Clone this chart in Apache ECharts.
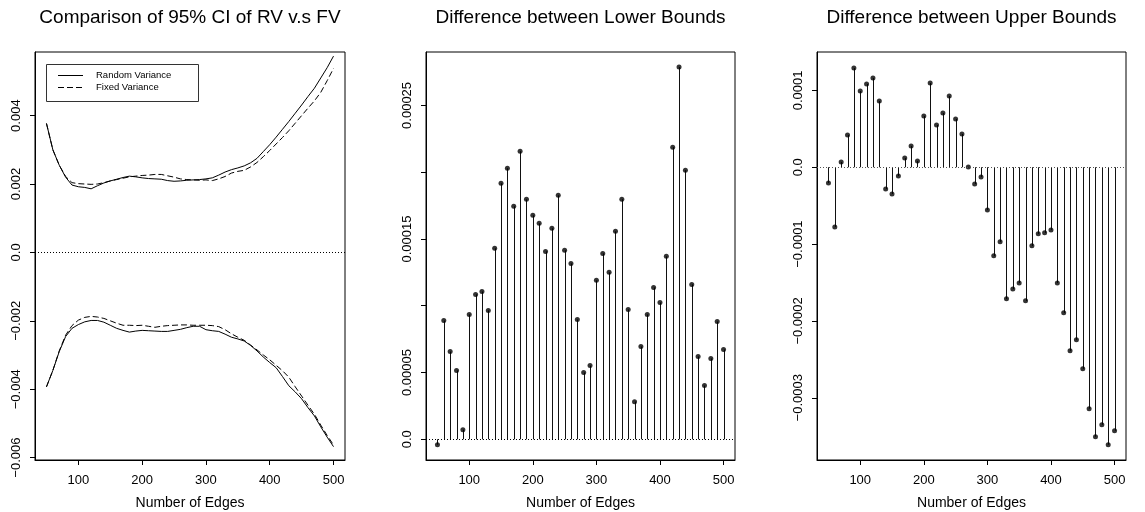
<!DOCTYPE html>
<html>
<head>
<meta charset="utf-8">
<script src="https://cdn.jsdelivr.net/npm/echarts@6/dist/echarts.min.js"></script>
<style>
  html, body { margin: 0; padding: 0; background: #fff; }
  #chart { width: 1145px; height: 512px; }
</style>
</head>
<body>
<div id="chart"></div>
<script>
// number of edges (x values shared by all panels)
const edges = [50, 60, 70, 80, 90, 100, 110, 120, 130, 140, 150, 160, 170, 180, 190, 200,
  210, 220, 230, 240, 250, 260, 270, 280, 290, 300, 310, 320, 330, 340, 350, 360,
  370, 380, 390, 400, 410, 420, 430, 440, 450, 460, 470, 480, 490, 500];

// panel 1: 95% CI bounds
const rvUpper = [0.00377, 0.00300, 0.00255, 0.00220, 0.00197, 0.00192, 0.00190, 0.00186, 0.00195, 0.00203,
  0.00209, 0.00214, 0.00219, 0.00223, 0.00221, 0.00218, 0.00216, 0.00215, 0.00214, 0.00210,
  0.00208, 0.00209, 0.00211, 0.00212, 0.00213, 0.00215, 0.00218, 0.00226, 0.00235, 0.00242,
  0.00247, 0.00253, 0.00262, 0.00275, 0.00295, 0.00315, 0.00337, 0.00360, 0.00383, 0.00407,
  0.00431, 0.00456, 0.00480, 0.00510, 0.00540, 0.00574];
const fvUpper = [0.00377, 0.00300, 0.00255, 0.00222, 0.00204, 0.00201, 0.00200, 0.00199, 0.00200, 0.00204,
  0.00209, 0.00213, 0.00217, 0.00221, 0.00223, 0.00225, 0.00226, 0.00228, 0.00228, 0.00224,
  0.00220, 0.00215, 0.00213, 0.00212, 0.00211, 0.00212, 0.00210, 0.00215, 0.00222, 0.00232,
  0.00237, 0.00240, 0.00250, 0.00263, 0.00280, 0.00298, 0.00317, 0.00336, 0.00356, 0.00378,
  0.00400, 0.00422, 0.00443, 0.00468, 0.00502, 0.00538];
const rvLower = [-0.00393, -0.00345, -0.00290, -0.00246, -0.00222, -0.00211, -0.00203, -0.00199, -0.00199, -0.00204,
  -0.00213, -0.00222, -0.00228, -0.00233, -0.00230, -0.00228, -0.00229, -0.00230, -0.00231, -0.00231,
  -0.00228, -0.00225, -0.00220, -0.00216, -0.00216, -0.00226, -0.00229, -0.00231, -0.00239, -0.00248,
  -0.00253, -0.00259, -0.00272, -0.00288, -0.00306, -0.00322, -0.00337, -0.00363, -0.00390, -0.00408,
  -0.00428, -0.00454, -0.00478, -0.00510, -0.00540, -0.00568];
const fvLower = [-0.00393, -0.00345, -0.00288, -0.00242, -0.00214, -0.00198, -0.00190, -0.00187, -0.00189, -0.00193,
  -0.00200, -0.00207, -0.00213, -0.00213, -0.00214, -0.00213, -0.00216, -0.00219, -0.00216, -0.00214,
  -0.00213, -0.00212, -0.00212, -0.00213, -0.00213, -0.00213, -0.00214, -0.00217, -0.00226, -0.00238,
  -0.00248, -0.00257, -0.00271, -0.00285, -0.00300, -0.00314, -0.00330, -0.00346, -0.00365, -0.00393,
  -0.00420, -0.00447, -0.00473, -0.00505, -0.00535, -0.00563];

// panel 2 / 3: differences
const lowerDiff = [-0.000004, 0.0000889, 0.0000657, 0.0000515, 0.0000072, 0.0000935, 0.0001085, 0.0001107, 0.0000965, 0.000143,
  0.0001917, 0.000203, 0.0001745, 0.0002157, 0.0001797, 0.0001677, 0.0001617, 0.0001407, 0.000158, 0.0001827,
  0.0001415, 0.0001317, 0.0000897, 0.00005, 0.0000552, 0.000119, 0.0001392, 0.000125, 0.0001557, 0.0001797,
  0.0000972, 0.0000282, 0.0000695, 0.0000935, 0.0001137, 0.0001025, 0.000137, 0.0002187, 0.0002787, 0.0002015,
  0.000116, 0.000062, 0.0000402, 0.0000605, 0.0000882, 0.0000672];
const upperDiff = [-0.0000204, -0.0000776, 0.0000069, 0.000042, 0.0001291, 0.0000992, 0.0001083, 0.0001161, 0.0000862, -0.0000282,
  -0.0000347, -0.0000113, 0.0000121, 0.0000277, 0.0000082, 0.0000667, 0.0001096, 0.000055, 0.0000706, 0.0000927,
  0.0000628, 0.0000433, 0.0000004, -0.0000217, -0.0000126, -0.0000555, -0.0001153, -0.0000971, -0.0001713, -0.0001583,
  -0.0001505, -0.0001739, -0.0001023, -0.0000867, -0.0000854, -0.0000815, -0.0001505, -0.0001895, -0.0002389, -0.0002246,
  -0.0002623, -0.0003143, -0.0003507, -0.0003351, -0.0003611, -0.0003429];

// ticks & labels
const xTicks = [100, 200, 300, 400, 500];
const ciTicks = [-0.006, -0.004, -0.002, 0, 0.002, 0.004];
const ciLabels = ['\u22120.006', '\u22120.004', '\u22120.002', '0.0', '0.002', '0.004'];
const lowTicks = [0, 0.00005, 0.0001, 0.00015, 0.0002, 0.00025];
const lowLabelTicks = [0, 0.00005, 0.00015, 0.00025];
const lowLabels = ['0.0', '0.00005', '0.00015', '0.00025'];
const upTicks = [-0.0003, -0.0002, -0.0001, 0, 0.0001];
const upLabels = ['\u22120.0003', '\u22120.0002', '\u22120.0001', '0.0', '0.0001'];

const titles = ['Comparison of 95% CI of RV v.s FV', 'Difference between Lower Bounds', 'Difference between Upper Bounds'];
const legendNames = ['Random Variance', 'Fixed Variance'];

const FONT = '"Liberation Sans", Arial, Helvetica, sans-serif';
const grids = [
  { left: 35, top: 52, width: 310, height: 408 },
  { left: 426, top: 52, width: 309, height: 408 },
  { left: 817, top: 52, width: 309, height: 408 }
];

function pairs(ys) {
  return edges.map((x, i) => [x, ys[i]]);
}
function lookup(vals, labels) {
  return function (v) {
    for (let i = 0; i < vals.length; i++) {
      if (Math.abs(vals[i] - v) < 1e-12) return labels[i];
    }
    return '';
  };
}

function xAxisOf(idx) {
  return {
    type: 'value', gridIndex: idx, min: 32, max: 518,
    name: 'Number of Edges', nameLocation: 'middle', nameGap: 36,
    nameTextStyle: { color: '#000', fontSize: 14, fontFamily: FONT },
    axisLine: { show: true, onZero: false, lineStyle: { color: '#000', width: 1 } },
    axisTick: { show: true, inside: false, length: 5, lineStyle: { color: '#000' }, customValues: xTicks },
    axisLabel: { color: '#000', fontSize: 13, fontFamily: FONT, margin: 14, customValues: xTicks },
    splitLine: { show: false }
  };
}
function yAxisOf(idx, min, max, ticks, labelTicks, labels) {
  return {
    type: 'value', gridIndex: idx, min: min, max: max,
    axisLine: { show: true, onZero: false, lineStyle: { color: '#000', width: 1 } },
    axisTick: { show: true, inside: false, length: 5, lineStyle: { color: '#000' }, customValues: ticks },
    axisLabel: {
      color: '#000', fontSize: 13, fontFamily: FONT, rotate: 90, margin: 12,
      customValues: labelTicks, formatter: lookup(labelTicks, labels)
    },
    splitLine: { show: false }
  };
}

function stem(params, api) {
  const p0 = api.coord([api.value(0), 0]);
  const p1 = api.coord([api.value(0), api.value(1)]);
  const x = Math.round(p0[0]) + 0.5;
  return {
    type: 'line',
    shape: { x1: x, y1: p0[1], x2: x, y2: p1[1] },
    style: { stroke: '#111', lineWidth: 1 }
  };
}

const zeroLine = (color) => ({
  silent: true, symbol: 'none', label: { show: false },
  lineStyle: { color: color, type: [1, 2], width: 1 },
  data: [{ yAxis: 0 }]
});

// legend box drawn like R's legend()
const legendBox = [
  { type: 'rect', left: 46, top: 64, shape: { width: 152, height: 37 },
    style: { fill: '#fff', stroke: '#333', lineWidth: 1 }, z: 100 },
  { type: 'line', shape: { x1: 58, y1: 75.5, x2: 83, y2: 75.5 },
    style: { stroke: '#000', lineWidth: 1 }, z: 101 },
  { type: 'line', shape: { x1: 58, y1: 87.5, x2: 83, y2: 87.5 },
    style: { stroke: '#000', lineWidth: 1, lineDash: [6, 3] }, z: 101 },
  { type: 'text', left: 96, top: 70, z: 101,
    style: { text: legendNames[0], fill: '#000', fontSize: 9.5, fontFamily: FONT } },
  { type: 'text', left: 96, top: 82, z: 101,
    style: { text: legendNames[1], fill: '#000', fontSize: 9.5, fontFamily: FONT } }
];

const chart = echarts.init(document.getElementById('chart'), null, { renderer: 'canvas' });
const option = {
  animation: false,
  backgroundColor: '#fff',
  title: titles.map((t, i) => ({
    text: t,
    left: grids[i].left + grids[i].width / 2,
    textAlign: 'center',
    top: 8,
    padding: 0,
    textStyle: { color: '#000', fontSize: 19, fontWeight: 'normal', fontFamily: FONT }
  })),
  graphic: legendBox,
  grid: grids.map(g => Object.assign({
    show: true, borderColor: '#000', borderWidth: 1, backgroundColor: 'transparent',
    containLabel: false, outerBoundsMode: 'none'
  }, g)),
  xAxis: [xAxisOf(0), xAxisOf(1), xAxisOf(2)],
  yAxis: [
    yAxisOf(0, -0.00607, 0.00586, ciTicks, ciTicks, ciLabels),
    yAxisOf(1, -0.0000155, 0.00029, lowTicks, lowLabelTicks, lowLabels),
    yAxisOf(2, -0.000381, 0.00015, upTicks, upTicks, upLabels)
  ],
  series: [
    {
      name: legendNames[0], type: 'line', xAxisIndex: 0, yAxisIndex: 0,
      data: pairs(rvUpper), symbol: 'none', lineStyle: { color: '#000', width: 1 },
      markLine: zeroLine('#000')
    },
    {
      name: legendNames[1], type: 'line', xAxisIndex: 0, yAxisIndex: 0,
      data: pairs(fvUpper), symbol: 'none', lineStyle: { color: '#000', width: 1, type: [6, 3] }
    },
    {
      name: legendNames[0], type: 'line', xAxisIndex: 0, yAxisIndex: 0,
      data: pairs(rvLower), symbol: 'none', lineStyle: { color: '#000', width: 1 }
    },
    {
      name: legendNames[1], type: 'line', xAxisIndex: 0, yAxisIndex: 0,
      data: pairs(fvLower), symbol: 'none', lineStyle: { color: '#000', width: 1, type: [6, 3] }
    },
    {
      name: 'lowerStem', type: 'custom', xAxisIndex: 1, yAxisIndex: 1,
      data: pairs(lowerDiff), renderItem: stem, encode: { x: 0, y: 1 },
      markLine: zeroLine('#000')
    },
    {
      name: 'lowerPt', type: 'scatter', xAxisIndex: 1, yAxisIndex: 1,
      data: pairs(lowerDiff), symbolSize: 5, itemStyle: { color: '#000' }
    },
    {
      name: 'upperStem', type: 'custom', xAxisIndex: 2, yAxisIndex: 2,
      data: pairs(upperDiff), renderItem: stem, encode: { x: 0, y: 1 },
      markLine: zeroLine('#555')
    },
    {
      name: 'upperPt', type: 'scatter', xAxisIndex: 2, yAxisIndex: 2,
      data: pairs(upperDiff), symbolSize: 5, itemStyle: { color: '#000' }
    }
  ]
};
chart.setOption(option);
</script>
</body>
</html>
